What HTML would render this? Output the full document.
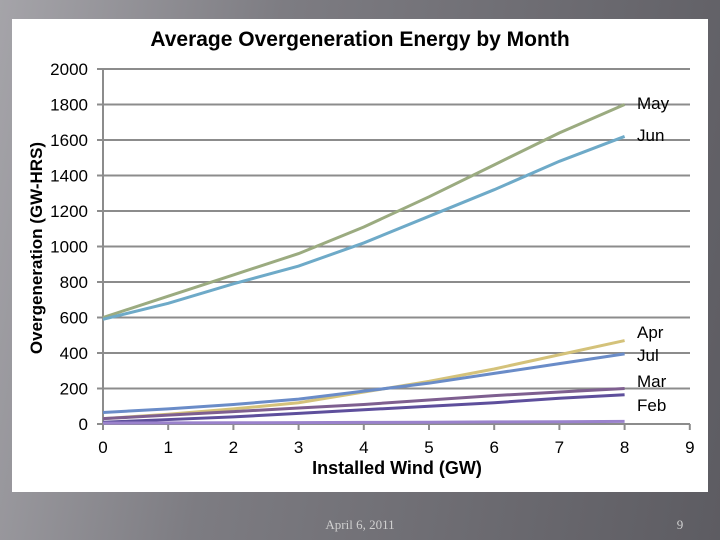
<!DOCTYPE html>
<html><head><meta charset="utf-8"><style>
html,body{margin:0;padding:0;width:720px;height:540px;overflow:hidden}
body{background:linear-gradient(100deg,#a5a4a9 0%,#7d7c82 35%,#5d5c62 100%);font-family:"Liberation Sans",sans-serif}
svg{position:absolute;left:0;top:0}
</style></head><body>
<svg width="720" height="540">
<rect x="12" y="19" width="696" height="473" fill="#fff"/>
<text x="360" y="46" text-anchor="middle" font-size="21" font-weight="bold" fill="#000">Average Overgeneration Energy by Month</text>
<g id="grid"></g><g id="series"></g>
<text transform="translate(42,248) rotate(-90)" text-anchor="middle" font-size="17" font-weight="bold">Overgeneration (GW-HRS)</text>
<text x="397" y="474" text-anchor="middle" font-size="18" font-weight="bold">Installed Wind (GW)</text>
<text x="360" y="529" text-anchor="middle" font-size="13" fill="#d0d0d0" font-family="Liberation Serif,serif">April 6, 2011</text>
<text x="680" y="529" text-anchor="middle" font-size="13" fill="#d0d0d0" font-family="Liberation Serif,serif">9</text>
</svg>
<script>
const xVals=[0,1,2,3,4,5,6,7,8];
const xTicks=[0,1,2,3,4,5,6,7,8,9];
const yTicks=[0,200,400,600,800,1000,1200,1400,1600,1800,2000];
const seriesNames=["May","Jun","Apr","Jul","Mar","Feb","Jan"];
const may=[600,720,840,960,1110,1280,1460,1640,1800];
const jun=[590,680,790,890,1020,1170,1320,1480,1620];
const apr=[30,55,85,120,180,240,310,390,470];
const jul=[65,85,110,140,185,230,285,340,395];
const mar=[30,50,70,90,110,135,160,180,200];
const feb=[10,25,40,60,80,100,120,145,165];
const jan=[5,6,7,8,9,10,12,13,15];
const allSeries=[may,jun,apr,jul,mar,feb,jan];
const colors=["#9bab80","#6eaac8","#d4c27a","#6a8cc8","#7e5f90","#5e4f9c","#9a82cc"];
const labelY=[103,135,332,355,381,405,null];
const NS="http://www.w3.org/2000/svg";
const X=v=>103+v*65.2, Y=v=>424-v*0.1775;
const grid=document.getElementById('grid'), ser=document.getElementById('series');
function mk(tag,attrs,parent){const e=document.createElementNS(NS,tag);for(const k in attrs)e.setAttribute(k,attrs[k]);parent.appendChild(e);return e;}
yTicks.forEach(t=>{
 const l=mk('line',{x1:97,x2:690,y1:Y(t),y2:Y(t),stroke:'#8c8c8c','stroke-width':2},grid);
 
 
 const tx=mk('text',{x:88,y:Y(t)+6,'text-anchor':'end','font-size':17},grid);tx.textContent=t;
 
 
});
const ax=mk('line',{x1:X(0),x2:X(0),y1:Y(2000),y2:430,stroke:'#8c8c8c','stroke-width':2},grid);


xTicks.forEach(t=>{
 const l=mk('line',{x1:X(t),x2:X(t),y1:424,y2:430,stroke:'#8c8c8c','stroke-width':2},grid);
 
 
 const tx=mk('text',{x:X(t),y:453,'text-anchor':'middle','font-size':17},grid);tx.textContent=t;
 
 
});
allSeries.forEach((s,i)=>{
 const p=mk('polyline',{points:s.map((v,j)=>X(xVals[j])+','+Y(v)).join(' '),fill:'none',stroke:colors[i],'stroke-width':3},ser);
 
 
 if(labelY[i]!==null){
  const tx=mk('text',{x:637,y:labelY[i]+6,'font-size':17},ser);tx.textContent=seriesNames[i];
  
  
 }
});
</script>
</body></html>
